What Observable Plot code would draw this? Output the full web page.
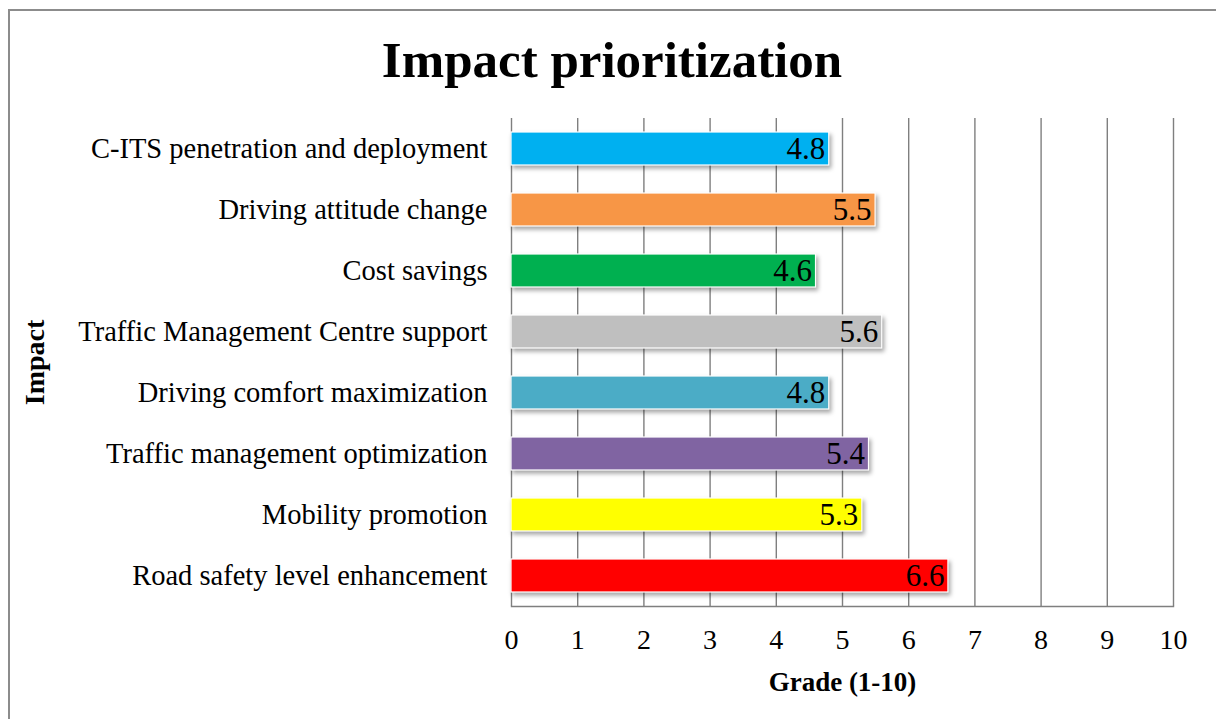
<!DOCTYPE html>
<html>
<head>
<meta charset="utf-8">
<script src="https://cdn.jsdelivr.net/npm/d3@7"></script>
<script src="https://cdn.jsdelivr.net/npm/@observablehq/plot@0.6"></script>
<style>
  html, body { margin: 0; padding: 0; background: #fff; }
  body { width: 1216px; height: 719px; overflow: hidden; position: relative; }
  #frame { position: absolute; left: 8px; top: 9px; width: 1230px; height: 730px; border: 2px solid #8c8c8c; box-sizing: border-box; }
  #title { position: absolute; left: 8px; top: 35px; width: 1208px; text-align: center; font-family: "Liberation Serif", serif; font-weight: bold; font-size: 51px; line-height: 51px; color: #000; }
  #chart { position: absolute; left: 0; top: 100px; }
  g[aria-label="bar"] rect { filter: drop-shadow(2px 3px 2px rgba(0,0,0,0.35)); }
</style>
</head>
<body>
<div id="frame"></div>
<div id="title">Impact prioritization</div>
<div id="chart"></div>
<script>
const categories = [
  "C-ITS penetration and deployment",
  "Driving attitude change",
  "Cost savings",
  "Traffic Management Centre support",
  "Driving comfort maximization",
  "Traffic management optimization",
  "Mobility promotion",
  "Road safety level enhancement"
];
const grades = [4.8, 5.5, 4.6, 5.6, 4.8, 5.4, 5.3, 6.6];
const colors = ["#00B0F0", "#F79646", "#00B050", "#BFBFBF", "#4BACC6", "#8064A2", "#FFFF00", "#FF0000"];
const xTicks = [0, 1, 2, 3, 4, 5, 6, 7, 8, 9, 10];
const xLabel = "Grade (1-10)";
const yLabel = "Impact";

const data = categories.map((c, i) => ({category: c, grade: grades[i], color: colors[i]}));

const chart = Plot.plot({
  width: 1216,
  height: 619,
  marginLeft: 511,
  marginRight: 43,
  marginTop: 18,
  marginBottom: 113,
  style: {fontFamily: "Liberation Serif, serif", fontSize: "28px", color: "#000", background: "transparent"},
  x: {domain: [0, 10], ticks: xTicks},
  y: {domain: categories, paddingInner: 0.46, paddingOuter: 0.23},
  marks: [
    Plot.ruleX(xTicks, {stroke: "#7f7f7f", strokeWidth: 1.4, strokeOpacity: 1}),
    Plot.frame({anchor: "bottom", stroke: "#7f7f7f", strokeWidth: 1.4}),
    Plot.barX(data, {x: "grade", y: "category", fill: "color", stroke: "#fff", strokeWidth: 1.2}),
    Plot.text(data, {x: "grade", y: "category", text: d => d.grade.toFixed(1), textAnchor: "end", dx: -4, fill: "#000", fontSize: 31}),
    Plot.axisX({ticks: xTicks, tickSize: 0, tickPadding: 23, label: null, fontSize: 28}),
    Plot.axisY({tickSize: 0, tickPadding: 24, label: null, fontSize: 28.5}),
    Plot.text([xLabel], {frameAnchor: "bottom", dy: 76, lineAnchor: "middle", textAnchor: "middle", fontWeight: "bold", fontSize: 27, fill: "#000"}),
    Plot.text([yLabel], {frameAnchor: "left", dx: -476, rotate: -90, textAnchor: "middle", lineAnchor: "middle", fontWeight: "bold", fontSize: 28, fill: "#000"})
  ]
});
document.getElementById("chart").appendChild(chart);
</script>
</body>
</html>
